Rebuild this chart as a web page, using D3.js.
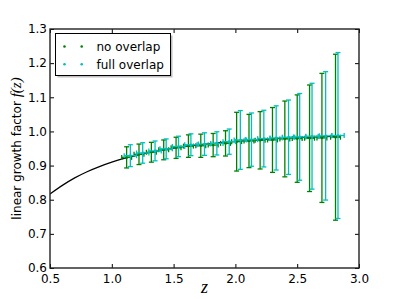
<!DOCTYPE html>
<html>
  <head>
    <title>Growth factor</title>
    <script type="text/javascript" src="https://cdn.jsdelivr.net/npm/d3@7"></script>
    <style type="text/css">
      body {
        margin: 0;
        background: white;
      }
      text {
        font-family: "DejaVu Sans", sans-serif;
        font-size: 12px;
        fill: black;
      }
      .axis path {
        display: none;
      }
      .axis line {
        stroke: black;
        stroke-width: 1;
      }
    </style>
  </head>
  <body>
  </body>
  <script type="text/javascript">

  var xTicks = [0.5, 1.0, 1.5, 2.0, 2.5, 3.0]
  var yTicks = [0.6, 0.7, 0.8, 0.9, 1.0, 1.1, 1.2, 1.3]

  // model curve
  var zCurve = [0.5, 0.6, 0.7, 0.8, 0.9, 1.0, 1.1, 1.2, 1.3, 1.4, 1.5, 1.6, 1.7, 1.8, 1.9, 2.0, 2.2, 2.4, 2.6, 2.85]
  var fCurve = [0.817, 0.842, 0.864, 0.882, 0.897, 0.910, 0.921, 0.930, 0.938, 0.945, 0.951, 0.956, 0.960, 0.964, 0.968, 0.971, 0.976, 0.980, 0.983, 0.986]

  // no overlap
  var zGreen = [1.12, 1.22, 1.32, 1.42, 1.52, 1.62, 1.72, 1.82, 1.92, 2.01, 2.11, 2.20, 2.30, 2.40, 2.50, 2.60, 2.70, 2.81]
  var fGreen = [0.924, 0.933, 0.939, 0.946, 0.952, 0.957, 0.958, 0.960, 0.965, 0.970, 0.972, 0.974, 0.975, 0.978, 0.979, 0.980, 0.981, 0.983]
  var eGreen = [0.031, 0.030, 0.029, 0.029, 0.031, 0.033, 0.034, 0.034, 0.037, 0.086, 0.078, 0.084, 0.095, 0.111, 0.128, 0.156, 0.189, 0.243]
  var zErrGreen = 0.04

  // full overlap
  var zCyan = [1.15, 1.25, 1.35, 1.44, 1.54, 1.64, 1.75, 1.85, 1.95, 2.04, 2.13, 2.23, 2.33, 2.43, 2.52, 2.62, 2.73, 2.83]
  var fCyan = [0.929, 0.937, 0.943, 0.949, 0.956, 0.961, 0.963, 0.965, 0.970, 0.975, 0.976, 0.979, 0.981, 0.983, 0.984, 0.986, 0.987, 0.988]
  var eCyan = [0.032, 0.030, 0.029, 0.029, 0.030, 0.032, 0.033, 0.034, 0.037, 0.086, 0.078, 0.083, 0.094, 0.109, 0.127, 0.155, 0.188, 0.243]
  var zErrCyan = 0.05

  var labels = ['no overlap', 'full overlap']
  var colors = ['#008000', '#00bfbf']

  var W = 399, H = 299
  var x0 = 50, x1 = 359, y0 = 29, y1 = 268

  var svg = d3.select('body')
    .append('svg')
      .attr('width', W)
      .attr('height', H)

  var x = d3.scaleLinear().domain([0.5, 3.0]).range([x0, x1])
  var y = d3.scaleLinear().domain([0.6, 1.3]).range([y1, y0])

  svg.append('clipPath').attr('id', 'clip')
    .append('rect')
      .attr('x', x0).attr('y', y0)
      .attr('width', x1 - x0).attr('height', y1 - y0)

  var plot = svg.append('g').attr('clip-path', 'url(#clip)')

  // curve
  var line = d3.line()
    .x(function(d) { return x(d[0]) })
    .y(function(d) { return y(d[1]) })
    .curve(d3.curveMonotoneX)

  plot.append('path')
    .datum(d3.zip(zCurve, fCurve))
    .attr('d', line)
    .attr('fill', 'none')
    .attr('stroke', 'black')
    .attr('stroke-width', 1.2)

  // error bars
  var cap = 2.5
  function errorbars(zs, fs, es, zerr, color) {
    var g = plot.append('g')
      .attr('stroke', color)
      .attr('stroke-width', 1.3)
    var pts = d3.zip(zs, fs, es)
    var bar = g.selectAll('g').data(pts).enter().append('g')
    bar.append('line')
      .attr('x1', function(d) { return x(d[0]) })
      .attr('x2', function(d) { return x(d[0]) })
      .attr('y1', function(d) { return y(d[1] - d[2]) })
      .attr('y2', function(d) { return y(d[1] + d[2]) })
    bar.append('line')
      .attr('x1', function(d) { return x(d[0]) - cap })
      .attr('x2', function(d) { return x(d[0]) + cap })
      .attr('y1', function(d) { return y(d[1] + d[2]) })
      .attr('y2', function(d) { return y(d[1] + d[2]) })
    bar.append('line')
      .attr('x1', function(d) { return x(d[0]) - cap })
      .attr('x2', function(d) { return x(d[0]) + cap })
      .attr('y1', function(d) { return y(d[1] - d[2]) })
      .attr('y2', function(d) { return y(d[1] - d[2]) })
    bar.append('line')
      .attr('x1', function(d) { return x(d[0] - zerr) })
      .attr('x2', function(d) { return x(d[0] + zerr) })
      .attr('y1', function(d) { return y(d[1]) })
      .attr('y2', function(d) { return y(d[1]) })
    bar.append('line')
      .attr('x1', function(d) { return x(d[0] - zerr) })
      .attr('x2', function(d) { return x(d[0] - zerr) })
      .attr('y1', function(d) { return y(d[1]) - cap })
      .attr('y2', function(d) { return y(d[1]) + cap })
    bar.append('line')
      .attr('x1', function(d) { return x(d[0] + zerr) })
      .attr('x2', function(d) { return x(d[0] + zerr) })
      .attr('y1', function(d) { return y(d[1]) - cap })
      .attr('y2', function(d) { return y(d[1]) + cap })
    bar.append('circle')
      .attr('cx', function(d) { return x(d[0]) })
      .attr('cy', function(d) { return y(d[1]) })
      .attr('r', 1.3)
      .attr('fill', color)
      .attr('stroke', 'none')
  }
  errorbars(zGreen, fGreen, eGreen, zErrGreen, colors[0])
  errorbars(zCyan, fCyan, eCyan, zErrCyan, colors[1])

  // axes, ticks pointing in
  var fmt = d3.format('.1f')
  svg.append('g').attr('class', 'axis')
    .attr('transform', 'translate(0,' + y1 + ')')
    .call(d3.axisBottom(x).tickValues(xTicks).tickFormat(fmt).tickSizeInner(-4).tickSizeOuter(0).tickPadding(6))
  svg.append('g').attr('class', 'axis')
    .attr('transform', 'translate(0,' + y0 + ')')
    .call(d3.axisTop(x).tickValues(xTicks).tickFormat('').tickSizeInner(-4).tickSizeOuter(0))
  svg.append('g').attr('class', 'axis')
    .attr('transform', 'translate(' + x0 + ',0)')
    .call(d3.axisLeft(y).tickValues(yTicks).tickFormat(fmt).tickSizeInner(-4).tickSizeOuter(0).tickPadding(3))
  svg.append('g').attr('class', 'axis')
    .attr('transform', 'translate(' + x1 + ',0)')
    .call(d3.axisRight(y).tickValues(yTicks).tickFormat('').tickSizeInner(-4).tickSizeOuter(0))
  svg.selectAll('.axis').attr('font-family', null).attr('font-size', null)

  svg.append('rect')
    .attr('x', x0).attr('y', y0)
    .attr('width', x1 - x0).attr('height', y1 - y0)
    .attr('fill', 'none')
    .attr('stroke', '#222')
    .attr('stroke-width', 1.4)

  // axis labels
  svg.append('text')
    .attr('x', (x0 + x1) / 2)
    .attr('y', 293)
    .attr('text-anchor', 'middle')
    .style('font-family', '"Liberation Serif", serif')
    .style('font-style', 'italic')
    .style('font-size', '18px')
    .text('z')

  var ylab = svg.append('text')
    .attr('transform', 'translate(21,' + ((y0 + y1) / 2) + ') rotate(-90)')
    .attr('text-anchor', 'middle')
  ylab.append('tspan').text('linear growth factor ')
  ylab.append('tspan')
    .style('font-family', '"Liberation Serif", serif')
    .style('font-style', 'italic')
    .style('font-size', '15px')
    .text('f(z)')

  // legend
  var lg = svg.append('g')
  lg.append('rect')
    .attr('x', 57.5).attr('y', 35.5)
    .attr('width', 115).attr('height', 42)
    .attr('fill', '#808080').attr('opacity', 0.5)
  lg.append('rect')
    .attr('x', 55.5).attr('y', 33.5)
    .attr('width', 115).attr('height', 42)
    .attr('fill', 'white').attr('stroke', 'black').attr('stroke-width', 1)

  labels.forEach(function(name, i) {
    var ly = 46.5 + i * 17.7
    lg.selectAll(null).data([64.5, 81.7]).enter().append('circle')
      .attr('cx', function(d) { return d })
      .attr('cy', ly)
      .attr('r', 1.3)
      .attr('fill', colors[i])
    lg.append('text')
      .attr('x', 96.5)
      .attr('y', ly + 4.3)
      .text(name)
  })

  </script>
</html>
